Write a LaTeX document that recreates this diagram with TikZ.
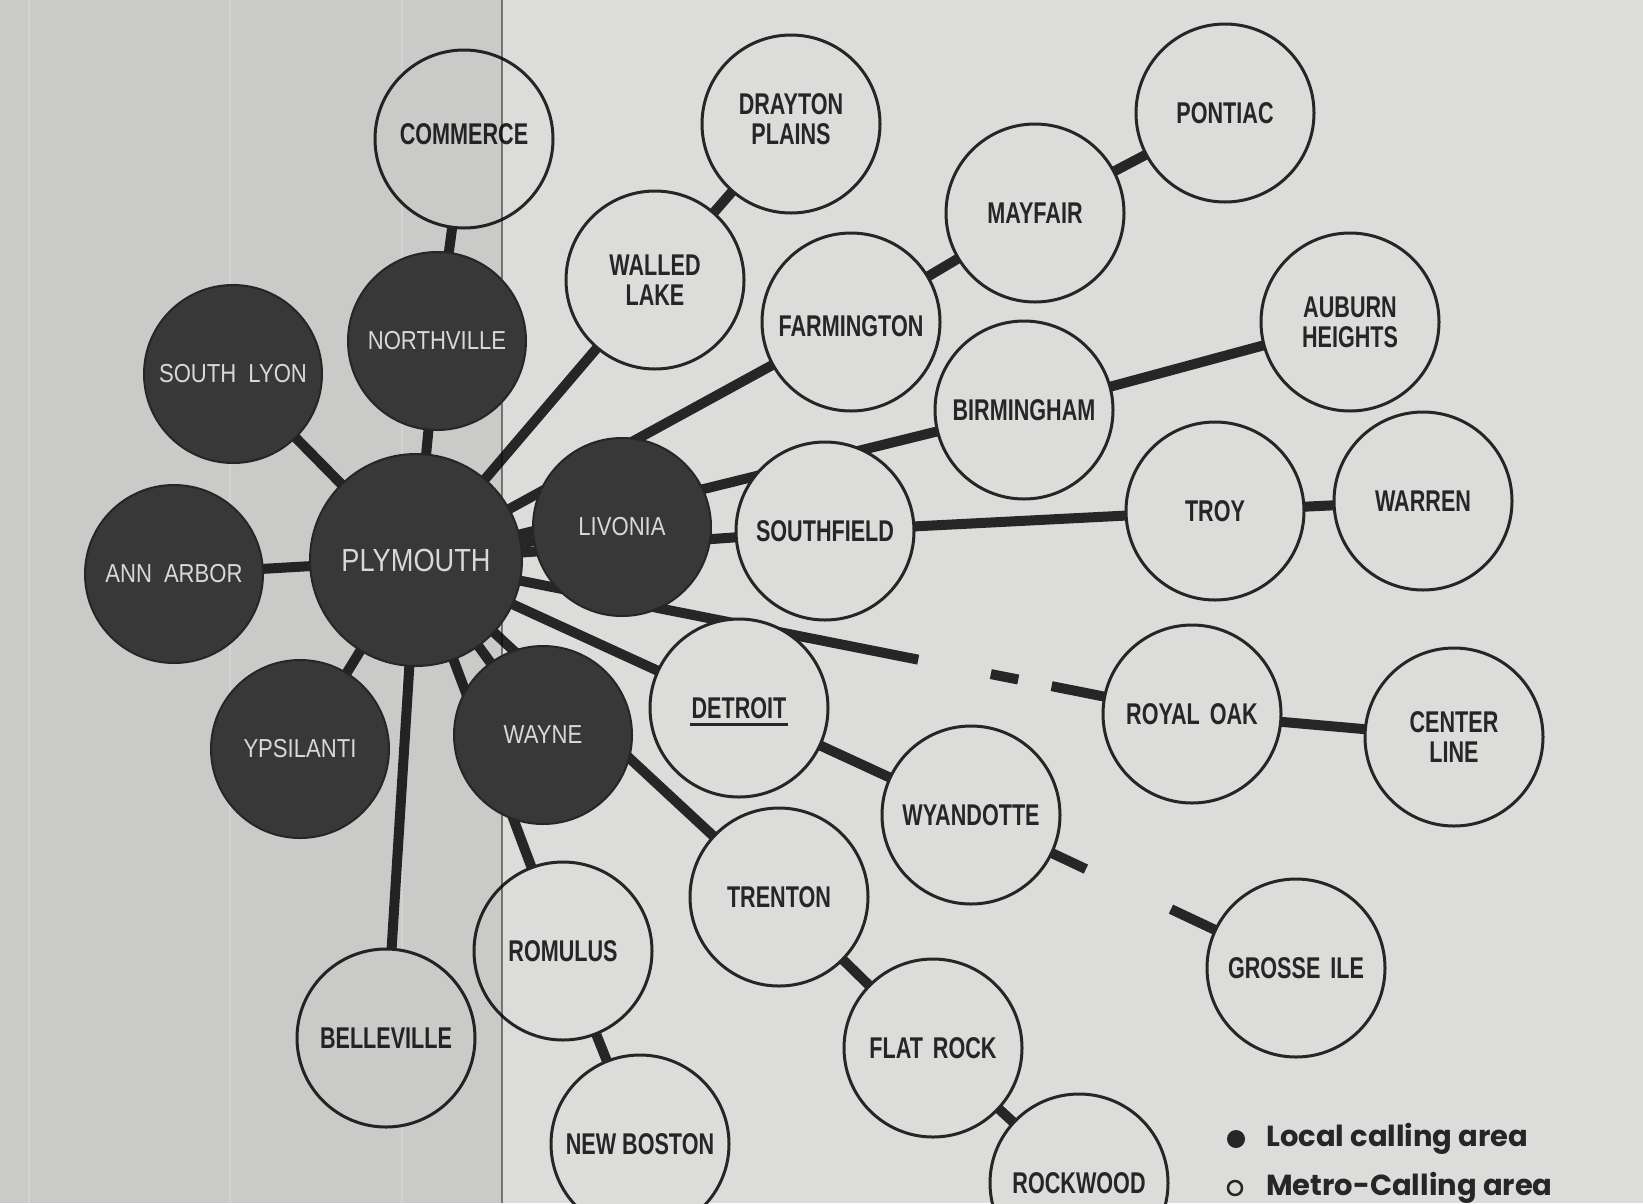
\documentclass[tikz,border=0pt]{standalone}
\usepackage{fontspec}
\usetikzlibrary{calc,backgrounds}
\newfontfamily\openfont[FakeStretch=0.72]{Liberation Sans}
\newfontfamily\darkfont[FakeStretch=0.85]{Liberation Sans}
\newfontfamily\legendfont{Poppins}
\definecolor{bgR}{HTML}{DCDCDA}
\definecolor{ink}{HTML}{262626}
\definecolor{darkfill}{HTML}{383838}
\definecolor{lighttext}{HTML}{D8D8D8}
\begin{document}
\begin{tikzpicture}[x=1pt,y=-1pt,
  metro/.style={circle, draw=ink, line width=3, fill=bgR, minimum size=178, inner sep=0,
    text=ink, font=\openfont\bfseries\fontsize{30}{30}\selectfont, align=center},
  local/.style={circle, draw=ink, line width=2, fill=darkfill, minimum size=178, inner sep=0,
    text=lighttext, font=\darkfont\fontsize{26}{26}\selectfont, align=center},
  hub/.style={local, minimum size=212, font=\darkfont\fontsize{32}{32}\selectfont},
  link/.style={draw=ink, line width=10},
  legendtext/.style={text=ink, font=\legendfont\bfseries\fontsize{29}{29}\selectfont, inner sep=0, anchor=base west}
]
\useasboundingbox (0,0) rectangle (1643,1203);
\clip (0,0) rectangle (1643,1203);

% nodes
\node[metro, text depth=9pt] (commerce) at (464,139) {COMMERCE};
\node[metro, text depth=9pt] (drayton) at (791,124) {DRAYTON\\PLAINS};
\node[metro] (pontiac) at (1225,113) {PONTIAC};
\node[metro] (mayfair) at (1035,213) {MAYFAIR};
\node[metro] (walled) at (655,280) {WALLED\\LAKE};
\node[metro, text height=29pt] (farmington) at (851,322) {FARMINGTON};
\node[local] (northville) at (437,341) {NORTHVILLE};
\node[local] (southlyon) at (233,374) {SOUTH\hspace{12pt}LYON};
\node[metro] (auburn) at (1350,322) {AUBURN\\HEIGHTS};
\node[metro] (birmingham) at (1024,410) {BIRMINGHAM};
\node[local] (livonia) at (622,527) {LIVONIA};
\node[metro] (southfield) at (825,531) {SOUTHFIELD};
\node[metro] (troy) at (1215,511) {TROY};
\node[metro] (warren) at (1423,501) {WARREN};
\node[hub] (plymouth) at (416,560) {PLYMOUTH};
\node[local] (annarbor) at (174,574) {ANN\hspace{12pt}ARBOR};
\node[metro] (detroit) at (739,708) {DETROIT};
\node[metro] (royaloak) at (1192,714) {ROYAL\hspace{10pt}OAK};
\node[metro] (centerline) at (1454,737) {CENTER\\LINE};
\node[local] (ypsilanti) at (300,749) {YPSILANTI};
\node[local] (wayne) at (543,735) {WAYNE};
\node[metro] (wyandotte) at (971,815) {WYANDOTTE};
\node[metro] (trenton) at (779,897) {TRENTON};
\node[metro] (romulus) at (563,951) {ROMULUS};
\node[metro] (grosseile) at (1296,968) {GROSSE\hspace{10pt}ILE};
\node[metro] (belleville) at (386,1038) {BELLEVILLE};
\node[metro] (flatrock) at (933,1048) {FLAT\hspace{10pt}ROCK};
\node[metro] (newboston) at (640,1144) {NEW BOSTON};
\node[metro] (rockwood) at (1079,1183) {ROCKWOOD};

\draw[ink, line width=3] ($(detroit.center)+(-49,16)$) -- ($(detroit.center)+(49,16)$);

% connectors behind the circles
\begin{pgfonlayer}{background}
\fill[bgR] (0,0) rectangle (1643,1203);
\draw[white, opacity=0.3, line width=2] (230,0) -- (230,1203);
\draw[white, opacity=0.3, line width=2] (402,0) -- (402,1203);
\draw[white, opacity=0.3, line width=2] (29,0) -- (29,1203);
\draw[link] (plymouth.center) -- (northville.center);
\draw[link] (northville.center) -- (commerce.center);
\draw[link] (plymouth.center) -- (southlyon.center);
\draw[link] (plymouth.center) -- (annarbor.center);
\draw[link] (plymouth.center) -- (ypsilanti.center);
\draw[link] (plymouth.center) -- (belleville.center);
\draw[link] (plymouth.center) -- (wayne.center);
\draw[link] (plymouth.center) -- (romulus.center);
\draw[link] (romulus.center) -- (newboston.center);
\draw[link] (plymouth.center) -- (trenton.center);
\draw[link] (trenton.center) -- (flatrock.center);
\draw[link] (flatrock.center) -- (rockwood.center);
\draw[link] (plymouth.center) -- (walled.center);
\draw[link] (walled.center) -- (drayton.center);
\draw[link] (plymouth.center) -- (farmington.center);
\draw[link] (farmington.center) -- (mayfair.center);
\draw[link] (mayfair.center) -- (pontiac.center);
\draw[link] (plymouth.center) -- (birmingham.center);
\draw[link] (birmingham.center) -- (auburn.center);
\draw[link] (plymouth.center) -- (livonia.center);
\draw[link] (plymouth.center) -- (southfield.center);
\draw[link] (southfield.center) -- (troy.center);
\draw[link] (troy.center) -- (warren.center);
\draw[link, dash pattern=on 512pt off 74pt on 28pt off 34pt on 600pt] (plymouth.center) -- (royaloak.center);
\draw[link] (royaloak.center) -- (centerline.center);
\draw[link] (plymouth.center) -- (detroit.center);
\draw[link] (detroit.center) -- (wyandotte.center);
\draw[link, dash pattern=on 127pt off 94pt on 400pt] (wyandotte.center) -- (grosseile.center);
\end{pgfonlayer}

% legend
\fill[ink] (1236,1139) circle[radius=9];
\node[legendtext] (leglocal) at (1266,1146) {Local calling area};
\draw[ink, line width=2.5] (1235,1188) circle[radius=7];
\node[legendtext] (legmetro) at (1266,1195) {Metro-Calling area};

% scan texture: darker left band and a vertical streak (not over the dark discs)
\begin{scope}[even odd rule]
\clip (0,0) rectangle (1643,1203)
  (plymouth.center) circle[radius=107]
  (wayne.center) circle[radius=90]
  (northville.center) circle[radius=90]
  (southlyon.center) circle[radius=90]
  (annarbor.center) circle[radius=90]
  (ypsilanti.center) circle[radius=90];
\fill[black, opacity=0.08] (0,0) rectangle (502,1203);
\draw[black, opacity=0.45, line width=2] (502,0) -- (502,1203);
\end{scope}
\end{tikzpicture}
\end{document}
